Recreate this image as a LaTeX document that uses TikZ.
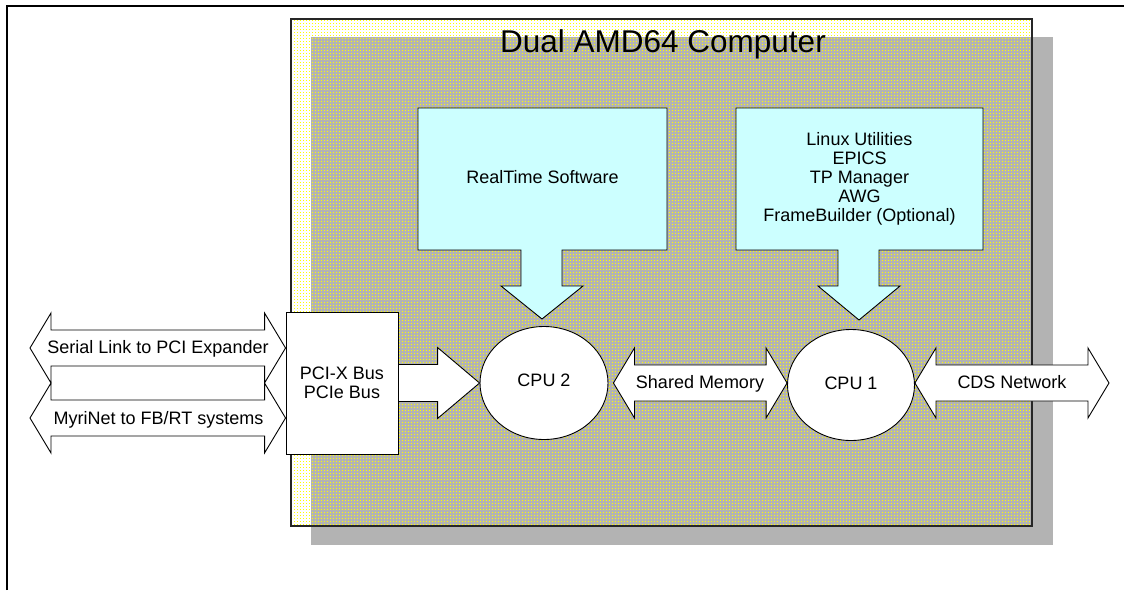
\documentclass[tikz,border=0pt]{standalone}
\usepackage{fontspec}
\setmainfont{Liberation Sans}
\usetikzlibrary{shapes.geometric,patterns,calc}

% sparse grid of yellow dots, used for the computer enclosure
\pgfdeclarepatternformonly{yellowdots}{\pgfqpoint{0pt}{0pt}}{\pgfqpoint{3pt}{3pt}}{\pgfqpoint{3pt}{3pt}}{%
  \pgfpathrectangle{\pgfqpoint{0pt}{0pt}}{\pgfqpoint{1pt}{1pt}}\pgfusepath{fill}}

\definecolor{shadowgrey}{HTML}{B3B3B3}
\definecolor{calloutblue}{HTML}{CCFFFF}

% horizontal block arrow with a head at both ends
\newcommand\twoheadblock[2]{%
  \draw[blockarrow] let \p1=#1, \p2=#2 in
    (\x1,\y1) -- (\x1+21pt,\y1+35pt) -- (\x1+21pt,\y1+18pt) -- (\x2-21pt,\y1+18pt)
    -- (\x2-21pt,\y1+35pt) -- (\x2,\y1) -- (\x2-21pt,\y1-35pt) -- (\x2-21pt,\y1-18pt)
    -- (\x1+21pt,\y1-18pt) -- (\x1+21pt,\y1-35pt) -- cycle;}

\begin{document}
\begin{tikzpicture}[x=1pt,y=-1pt,
  font=\fontsize{18}{19}\selectfont,
  outline/.style={draw=black, line width=0.9pt, line join=miter},
  blockarrow/.style={outline, fill=white},
  callout/.style={outline, fill=calloutblue},
  lbl/.style={inner sep=0pt, anchor=base},
  cpu/.style={ellipse, outline, fill=white, minimum width=128pt, minimum height=113pt, inner sep=0pt}]

\useasboundingbox (0,0) rectangle (1124,590);

% page frame
\draw[line width=2.2pt] (7,590) -- (7,6) -- (1124,6);

% computer enclosure with its drop shadow
\fill[shadowgrey] (311,37) rectangle (1053,545);
\path[pattern=yellowdots, pattern color=yellow] (291,19) rectangle (1032,526);
\draw[line width=1.2pt, draw=black!85] (291,19) rectangle (1032,526);
\node[lbl, font=\fontsize{31.5}{36}\selectfont] (title) at (663,52) {Dual AMD64 Computer};

% software callouts pointing down at the CPUs
\draw[callout] (418,108) -- (667,108) -- (667,250) -- (562,250) -- (562,286) -- (583,286)
  -- (542,319) -- (501,286) -- (521,286) -- (521,250) -- (418,250) -- cycle;
\node[lbl] (rtsw) at (542.5,183) {RealTime Software};

\draw[callout] (736,108) -- (983,108) -- (983,250) -- (879,250) -- (879,286) -- (900,286)
  -- (859,320) -- (818,286) -- (838,286) -- (838,250) -- (736,250) -- cycle;
\node[align=center, inner sep=0pt] (linuxsw) at (859.5,179.3)
  {Linux Utilities\\EPICS\\TP Manager\\AWG\\FrameBuilder (Optional)};

% processors
\node[cpu] (cpu2) at (544,383) {};
\node[lbl] (cpu2lbl) at (544,386) {CPU 2};
\node[cpu, minimum width=127pt, minimum height=111pt] (cpu1) at (851,385) {};
\node[lbl] (cpu1lbl) at (851,389) {CPU 1};

% bus bridge
\node[outline, fill=white, minimum width=112pt, minimum height=142pt, inner sep=0pt,
  align=center, font=\fontsize{18}{18.5}\selectfont] (pci) at (342,383) {PCI-X Bus\\PCIe Bus};

% free ends of the external links
\coordinate (serialend) at (30,348);
\coordinate (myriend) at (30,418);
\coordinate (cdsend) at (1109,383);

% external links into the bus bridge
\twoheadblock{(serialend)}{(serialend -| pci.west)}
\node[lbl] (seriallbl) at (158,353) {Serial Link to PCI Expander};
\twoheadblock{(myriend)}{(myriend -| pci.west)}
\node[lbl] (myrilbl) at (158.5,424) {MyriNet to FB/RT systems};

% bus bridge to CPU 2
\draw[blockarrow] let \p1=(pci.east |- cpu2.west), \p2=(cpu2.west) in
  (\x1,\y1+18.5pt) -- (\x2-42pt,\y1+18.5pt) -- (\x2-42pt,\y1+35.5pt) -- (\x2,\y2)
  -- (\x2-42pt,\y1-35.5pt) -- (\x2-42pt,\y1-18.5pt) -- (\x1,\y1-18.5pt) -- cycle;

% CPU 2 to CPU 1
\twoheadblock{([xshift=5pt]cpu2.east)}{(cpu1.west)}
\node[lbl] (shmlbl) at (700,388) {Shared Memory};

% CPU 1 to the network
\twoheadblock{(cpu1.east |- cdsend)}{(cdsend)}
\node[lbl] (cdslbl) at (1012,388) {CDS Network};

\end{tikzpicture}
\end{document}
